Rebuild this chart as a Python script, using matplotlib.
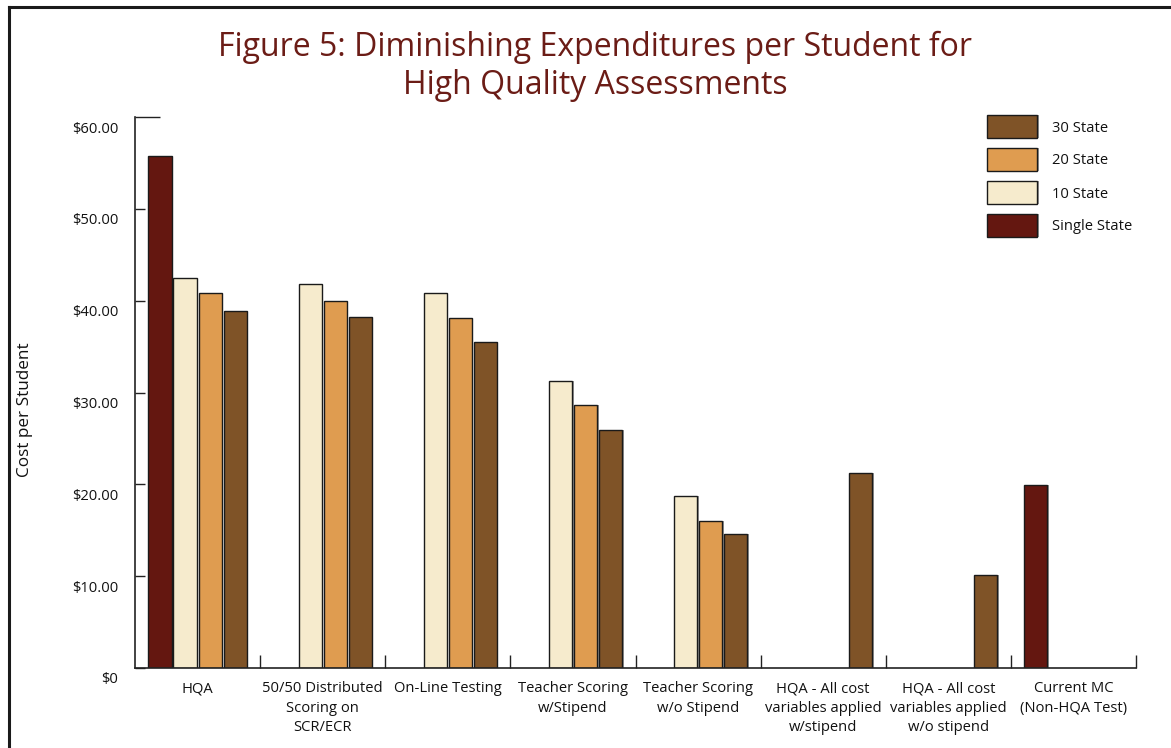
import matplotlib
matplotlib.use("Agg")
import matplotlib.pyplot as plt
import matplotlib.transforms as mtransforms
from matplotlib.lines import Line2D
from matplotlib.patches import Rectangle
import numpy as np

plt.rcParams['font.family'] = ['Open Sans', 'DejaVu Sans']

categories = ["HQA", "50/50 Distributed\nScoring on\nSCR/ECR", "On-Line Testing",
              "Teacher Scoring\nw/Stipend", "Teacher Scoring\nw/o Stipend",
              "HQA - All cost\nvariables applied\nw/stipend",
              "HQA - All cost\nvariables applied\nw/o stipend",
              "Current MC\n(Non-HQA Test)"]
series_names = ["Single State", "10 State", "20 State", "30 State"]
single_state = [55.8, None, None, None, None, None, None, 19.9]
state_10 = [42.5, 41.8, 40.8, 31.3, 18.7, None, None, None]
state_20 = [40.8, 40.0, 38.1, 28.6, 16.0, None, None, None]
state_30 = [38.9, 38.2, 35.5, 25.9, 14.6, 21.2, 10.1, None]
colors = ["#641710", "#f6ebcd", "#df9c50", "#7f5327"]
yticks = [0, 10, 20, 30, 40, 50]
ytick_labels = ["$0", "$10.00", "$20.00", "$30.00", "$40.00", "$50.00"]

W, H = 1171, 748
fig = plt.figure(figsize=(W / 100, H / 100), dpi=100)
ax = fig.add_axes([135 / W, 1 - 668 / H, (1136 - 135) / W, (668 - 117) / H])

all_series = [single_state, state_10, state_20, state_30]
offsets = [-0.3, -0.1, 0.1, 0.3]
x = np.arange(len(categories)) + 0.5
for vals, off, col in zip(all_series, offsets, colors):
    xs = [xi + off for xi, v in zip(x, vals) if v is not None]
    vs = [v for v in vals if v is not None]
    # subtle shadow
    ax.bar([xx + 0.012 for xx in xs], vs, width=0.185, color="#9a9a9a", edgecolor="none",
           zorder=1)
    ax.bar(xs, vs, width=0.185, color=col, edgecolor="#1a1a1a", linewidth=1.0, zorder=2)

ax.set_xlim(0, len(categories))
ax.set_ylim(0, 60)
for s in ["top", "right"]:
    ax.spines[s].set_visible(False)
for s in ["left", "bottom"]:
    ax.spines[s].set_linewidth(1.2)
    ax.spines[s].set_color("#222222")

ax.set_yticks(yticks)
ax.set_yticklabels(ytick_labels)
ax.set_yticks([60], minor=True)
ax.set_yticklabels(["$60.00"], minor=True)
ax.tick_params(axis="y", which="major", direction="in", length=7.5, width=1.0,
               color="#222222", pad=12, labelsize=10.6, labelcolor="#111111")
ax.tick_params(axis="y", which="minor", direction="in", length=18, width=1.0,
               color="#222222", pad=12, labelsize=10.6, labelcolor="#111111")
off = mtransforms.ScaledTranslation(0, -10 / 100, fig.dpi_scale_trans)
for lab in ax.get_yticklabels(which="both"):
    lab.set_transform(lab.get_transform() + off)

ax.set_xticks(np.arange(1, len(categories) + 1))
ax.set_xticklabels([])
ax.set_xticks(x, minor=True)
ax.set_xticklabels(categories, minor=True, linespacing=1.42)
ax.tick_params(axis="x", which="major", direction="in", length=9.5, width=1.0, color="#222222")
ax.tick_params(axis="x", which="minor", length=0, pad=9.5, labelsize=10.6, labelcolor="#111111")

fig.text(25 / W, 1 - 410 / H, "Cost per Student", rotation=90, ha="center", va="center",
         fontsize=12.3, color="#111111")

fig.text(595 / W, 1 - 66 / H,
         "Figure 5: Diminishing Expenditures per Student for\nHigh Quality Assessments",
         ha="center", va="center", fontsize=23, color="#6b1c16", linespacing=1.2)

# legend drawn manually (order: 30, 20, 10, Single)
leg_order = [3, 2, 1, 0]
leg_tops = [115, 148, 181, 214]
for i, top in zip(leg_order, leg_tops):
    fig.add_artist(Rectangle((989 / W, 1 - (top + 23) / H), 50 / W, 23 / H,
                             transform=fig.transFigure, facecolor="#9a9a9a",
                             edgecolor="none"))
    fig.add_artist(Rectangle((987 / W, 1 - (top + 23) / H), 50 / W, 23 / H,
                             transform=fig.transFigure, facecolor=colors[i],
                             edgecolor="#1a1a1a", linewidth=1.0))
    fig.text(1052 / W, 1 - (top + 13) / H, series_names[i], ha="left", va="center",
             fontsize=10.6, color="#111111")

# outer frame
fig.add_artist(Line2D([9 / W, 9 / W], [0, 1 - 7 / H], transform=fig.transFigure,
                      color="#1a1a1a", linewidth=2.2))
fig.add_artist(Line2D([9 / W, 1], [1 - 7 / H, 1 - 7 / H], transform=fig.transFigure,
                      color="#1a1a1a", linewidth=2.2))

fig.savefig("out.png", dpi=100)
